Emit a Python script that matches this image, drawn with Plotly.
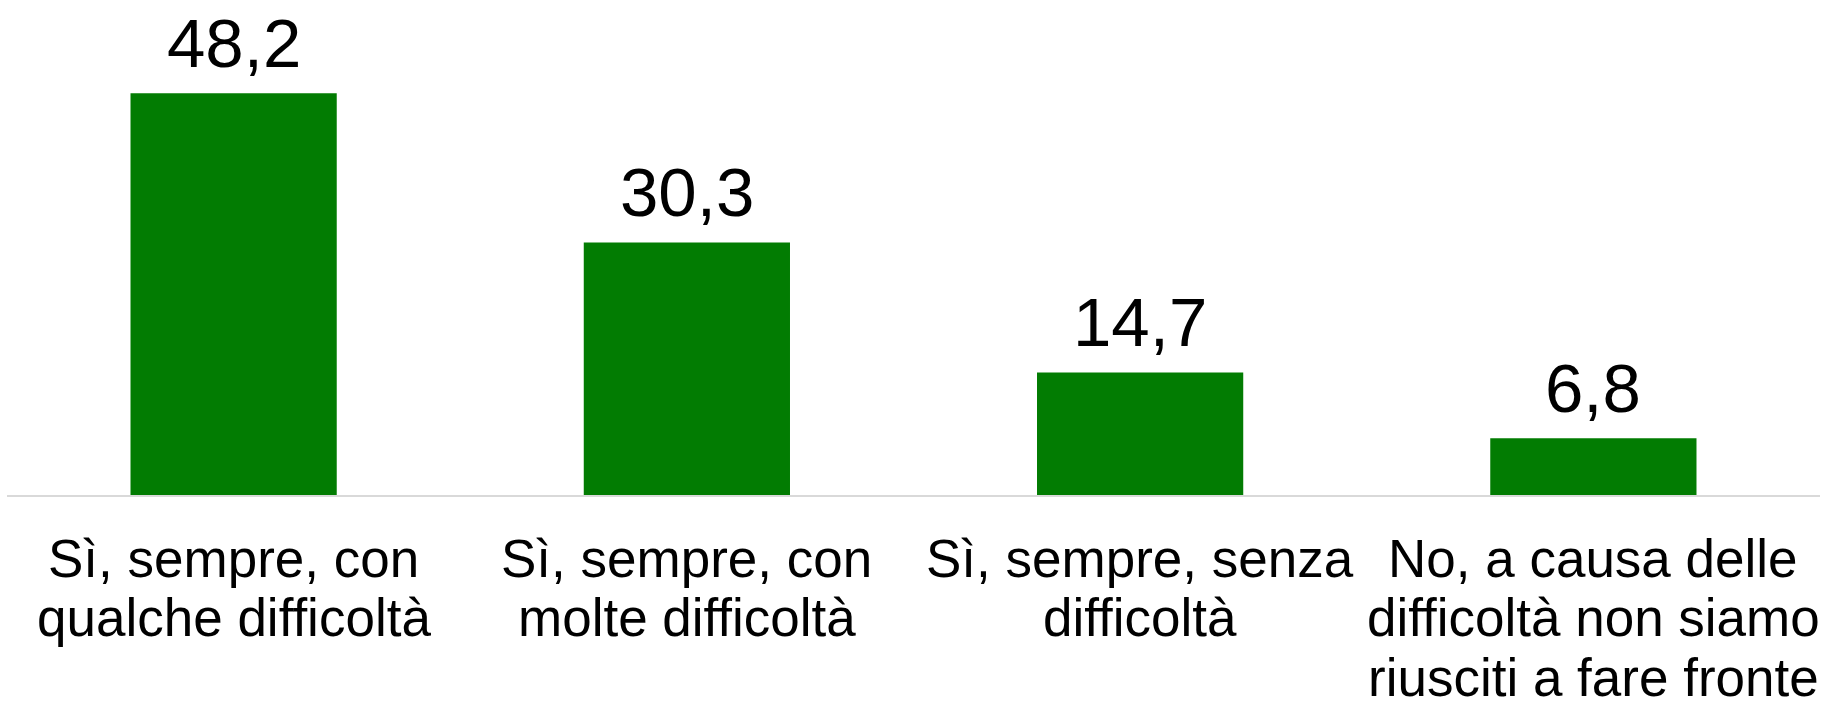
import plotly.graph_objects as go

categories = ["cat1", "cat2", "cat3", "cat4"]
values = [48.2, 30.3, 14.7, 6.8]
value_labels = ["48,2", "30,3", "14,7", "6,8"]
label_lines = [
    ["Sì, sempre, con", "qualche difficoltà"],
    ["Sì, sempre, con", "molte difficoltà"],
    ["Sì, sempre, senza", "difficoltà"],
    ["No, a causa delle", "difficoltà non siamo", "riusciti a fare fronte"],
]

FONT = "Liberation Sans, Arial, sans-serif"
GREEN = "#027C02"

fig = go.Figure()
fig.add_trace(go.Bar(
    x=categories, y=values, width=0.455,
    marker=dict(color=GREEN, line=dict(width=0)),
    hoverinfo="skip",
))

annotations = []
for c, v, t in zip(categories, values, value_labels):
    annotations.append(dict(
        x=c, y=v, xref="x", yref="y", text=t, showarrow=False,
        yanchor="middle", xanchor="center", yshift=50,
        font=dict(family=FONT, size=69, color="#000000"),
    ))
line_shifts = [-63, -122, -182]
for c, lines in zip(categories, label_lines):
    for i, ln in enumerate(lines):
        annotations.append(dict(
            x=c, y=0, xref="x", yref="y", text=ln, showarrow=False,
            yanchor="middle", xanchor="center", yshift=line_shifts[i],
            font=dict(family=FONT, size=53, color="#000000"),
        ))

fig.update_layout(
    width=1821, height=701,
    margin=dict(l=7, r=1, t=0, b=206),
    paper_bgcolor="white", plot_bgcolor="white",
    showlegend=False,
    annotations=annotations,
    xaxis=dict(showticklabels=False, showgrid=False, zeroline=False,
               showline=True, linecolor="#D9D9D9", linewidth=2,
               range=[-0.5, 3.5], fixedrange=True),
    yaxis=dict(visible=False, range=[0, 59.4], fixedrange=True),
)

fig.write_html(
    "out.html",
    config={"displayModeBar": False},
    post_script="document.body.style.margin='0';document.body.style.overflow='hidden';",
)
